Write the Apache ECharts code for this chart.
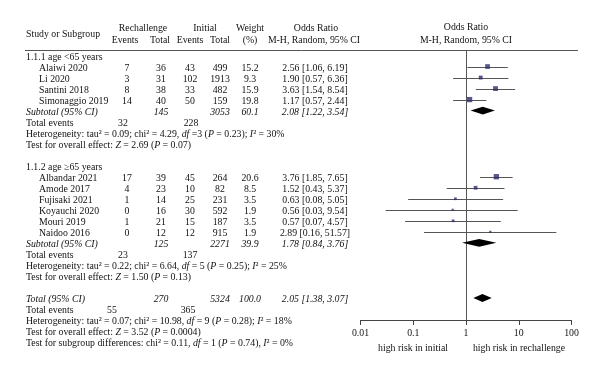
<!DOCTYPE html>
<html><head><meta charset="utf-8">
<script src="https://cdn.jsdelivr.net/npm/echarts@6/dist/echarts.min.js"></script>
<style>html,body{margin:0;padding:0;background:#fff}#c{width:600px;height:377px}</style>
</head><body><div id="c"></div>
<script>
// ---- data ----
const group1Label = '1.1.1 age <65 years';
const group2Label = '1.1.2 age \u226565 years';
const g1Studies = ['Alaiwi 2020', 'Li 2020', 'Santini 2018', 'Simonaggio 2019'];
const g1RechEvents = [7, 3, 8, 14];
const g1RechTotal = [36, 31, 38, 40];
const g1InitEvents = [43, 102, 33, 50];
const g1InitTotal = [499, 1913, 482, 159];
const g1Weight = [15.2, 9.3, 15.9, 19.8];
const g1OR = [2.56, 1.90, 3.63, 1.17];
const g1Lo = [1.06, 0.57, 1.54, 0.57];
const g1Hi = [6.19, 6.36, 8.54, 2.44];
const g1Sub = {rechTotal: 145, initTotal: 3053, weight: 60.1, or: 2.08, lo: 1.22, hi: 3.54, rechEv: 32, initEv: 228};

const g2Studies = ['Albandar 2021', 'Amode 2017', 'Fujisaki 2021', 'Koyauchi 2020', 'Mouri 2019', 'Naidoo 2016'];
const g2RechEvents = [17, 4, 1, 0, 1, 0];
const g2RechTotal = [39, 23, 14, 16, 21, 12];
const g2InitEvents = [45, 10, 25, 30, 15, 12];
const g2InitTotal = [264, 82, 231, 592, 187, 915];
const g2Weight = [20.6, 8.5, 3.5, 1.9, 3.5, 1.9];
const g2OR = [3.76, 1.52, 0.63, 0.56, 0.57, 2.89];
const g2Lo = [1.85, 0.43, 0.08, 0.03, 0.07, 0.16];
const g2Hi = [7.65, 5.37, 5.05, 9.54, 4.57, 51.57];
const g2Sub = {rechTotal: 125, initTotal: 2271, weight: 39.9, or: 1.78, lo: 0.84, hi: 3.76, rechEv: 23, initEv: 137};

const total = {rechTotal: 270, initTotal: 5324, weight: 100.0, or: 2.05, lo: 1.38, hi: 3.07, rechEv: 55, initEv: 365};

const g1Het = 'Heterogeneity: tau\u00b2 = 0.09; chi\u00b2 = 4.29, {i|df} =3 ({i|P} = 0.23); {i|I}\u00b2 = 30%';
const g1Test = 'Test for overall effect: {i|Z} = 2.69 ({i|P} = 0.07)';
const g2Het = 'Heterogeneity: tau\u00b2 = 0.22; chi\u00b2 = 6.64, {i|df} = 5 ({i|P} = 0.25); {i|I}\u00b2 = 25%';
const g2Test = 'Test for overall effect: {i|Z} = 1.50 ({i|P} = 0.13)';
const totHet = 'Heterogeneity: tau\u00b2 = 0.07; chi\u00b2 = 10.98, {i|df} = 9 ({i|P} = 0.28); {i|I}\u00b2 = 18%';
const totTest = 'Test for overall effect: {i|Z} = 3.52 ({i|P} = 0.0004)';
const subgroupTest = 'Test for subgroup differences: chi\u00b2 = 0.11, {i|df} = 1 ({i|P} = 0.74), {i|I}\u00b2 = 0%';

const xTickLabels = ['0.01', '0.1', '1', '10', '100'];
const xAxisLeftText = 'high risk in initial';
const xAxisRightText = 'high risk in rechallenge';

// ---- layout ----
const FF = '"Liberation Serif", "Times New Roman", serif';
const FS = 9.8;
const TXT = '#111';
const rowTextY = i => 57 + 11 * i;
const col = {name: 26, indent: 39, rechEv: 127, rechTot: 161, initEv: 190, initTot: 220, weight: 250, or: 315};
const f2 = v => v.toFixed(2);
const orText = (o, l, h) => f2(o) + ' [' + f2(l) + ', ' + f2(h) + ']';

const els = [];
function txt(s, x, y, align, italic, extra) {
  els.push({
    type: 'text', x: x, y: y, silent: true,
    style: Object.assign({
      text: s, fill: TXT, fontFamily: FF, fontSize: FS,
      fontStyle: italic ? 'italic' : 'normal',
      align: align || 'left', verticalAlign: 'middle',
      rich: {i: {fontStyle: 'italic', fontFamily: FF, fontSize: FS, fill: TXT}}
    }, extra || {})
  });
}
// headers
txt('Study or Subgroup', col.name, 34);
txt('Rechallenge', 143, 28, 'center');
txt('Events', 125, 40, 'center');
txt('Total', 160, 40, 'center');
txt('Initial', 205, 28, 'center');
txt('Events', 190, 40, 'center');
txt('Total', 220, 40, 'center');
txt('Weight', 250, 28, 'center');
txt('(%)', 250, 40, 'center');
txt('Odds Ratio', 316, 28, 'center');
txt('M-H, Random, 95% CI', 314, 40, 'center');
txt('Odds Ratio', 466, 27, 'center');
txt('M-H, Random, 95% CI', 466, 40, 'center');

function studyRows(startRow, names, re, rt, ie, it, w, o, l, h) {
  names.forEach((n, k) => {
    const y = rowTextY(startRow + k);
    txt(n, col.indent, y);
    txt(String(re[k]), col.rechEv, y, 'center');
    txt(String(rt[k]), col.rechTot, y, 'center');
    txt(String(ie[k]), col.initEv, y, 'center');
    txt(String(it[k]), col.initTot, y, 'center');
    txt(w[k].toFixed(1), col.weight, y, 'center');
    txt(orText(o[k], l[k], h[k]), col.or, y, 'center');
  });
}
function summaryRow(row, label, s) {
  const y = rowTextY(row);
  txt(label, col.name, y, 'left', true);
  txt(String(s.rechTotal), col.rechTot, y, 'center', true);
  txt(String(s.initTotal), col.initTot, y, 'center', true);
  txt(s.weight.toFixed(1), col.weight, y, 'center', true);
  txt(orText(s.or, s.lo, s.hi), col.or, y, 'center', true);
}
// group 1
txt(group1Label, col.name, rowTextY(0));
studyRows(1, g1Studies, g1RechEvents, g1RechTotal, g1InitEvents, g1InitTotal, g1Weight, g1OR, g1Lo, g1Hi);
summaryRow(5, 'Subtotal (95% CI)', g1Sub);
txt('Total events', col.name, rowTextY(6));
txt(String(g1Sub.rechEv), 123, rowTextY(6), 'center');
txt(String(g1Sub.initEv), 191, rowTextY(6), 'center');
txt(g1Het, col.name, rowTextY(7));
txt(g1Test, col.name, rowTextY(8));
// group 2
txt(group2Label, col.name, rowTextY(10));
studyRows(11, g2Studies, g2RechEvents, g2RechTotal, g2InitEvents, g2InitTotal, g2Weight, g2OR, g2Lo, g2Hi);
summaryRow(17, 'Subtotal (95% CI)', g2Sub);
txt('Total events', col.name, rowTextY(18));
txt(String(g2Sub.rechEv), 123, rowTextY(18), 'center');
txt(String(g2Sub.initEv), 190, rowTextY(18), 'center');
txt(g2Het, col.name, rowTextY(19));
txt(g2Test, col.name, rowTextY(20));
// total
summaryRow(22, 'Total (95% CI)', total);
txt('Total events', col.name, rowTextY(23));
txt(String(total.rechEv), 112, rowTextY(23), 'center');
txt(String(total.initEv), 188, rowTextY(23), 'center');
txt(totHet, col.name, rowTextY(24));
txt(totTest, col.name, rowTextY(25));
txt(subgroupTest, col.name, rowTextY(26));
// header rule
els.push({type: 'line', silent: true, shape: {x1: 25, y1: 50.5, x2: 578, y2: 50.5}, style: {stroke: '#555', lineWidth: 1}});
// axis captions
txt(xAxisLeftText, 413, 348, 'center');
txt(xAxisRightText, 519, 348, 'center');

// ---- forest data ----
const studyRowsIdx1 = [1, 2, 3, 4];
const studyRowsIdx2 = [11, 12, 13, 14, 15, 16];
const ciData = [];
const sqData = [];
studyRowsIdx1.forEach((r, k) => { ciData.push([g1Lo[k], g1Hi[k], r]); sqData.push([g1OR[k], r, g1Weight[k]]); });
studyRowsIdx2.forEach((r, k) => { ciData.push([g2Lo[k], g2Hi[k], r]); sqData.push([g2OR[k], r, g2Weight[k]]); });
const diaData = [[g1Sub.or, g1Sub.lo, g1Sub.hi, 5], [g2Sub.or, g2Sub.lo, g2Sub.hi, 17], [total.or, total.lo, total.hi, 22]];

const chart = echarts.init(document.getElementById('c'), null, {renderer: 'canvas'});
chart.setOption({
  animation: false,
  backgroundColor: '#fff',
  grid: {left: 360.5, right: 28.5, top: 50, height: 270},
  xAxis: {
    type: 'log', logBase: 10, min: 0.01, max: 100, position: 'bottom',
    axisLine: {onZero: false, lineStyle: {color: '#444', width: 1}},
    axisTick: {show: true, length: 5, inside: false, lineStyle: {color: '#444'}},
    minorTick: {show: false},
    splitLine: {show: false},
    axisLabel: {margin: 8, color: TXT, fontFamily: FF, fontSize: FS,
      formatter: (v, i) => xTickLabels[i] !== undefined ? xTickLabels[i] : ''}
  },
  yAxis: {type: 'value', inverse: true, min: -0.5, max: 24, show: false},
  series: [
    {
      type: 'custom', name: 'ref', silent: true,
      data: [[1, -0.5, 24]],
      encode: {x: 0, y: [1, 2]},
      renderItem: (p, api) => {
        const a = api.coord([api.value(0), api.value(1)]);
        const b = api.coord([api.value(0), api.value(2)]);
        const x = Math.round(a[0]) + 0.5;
        return {type: 'line', shape: {x1: x, y1: a[1], x2: x, y2: b[1]}, style: {stroke: '#555', lineWidth: 1}};
      }
    },
    {
      type: 'custom', name: 'ci', silent: true,
      data: ciData,
      encode: {x: [0, 1], y: 2},
      renderItem: (p, api) => {
        const a = api.coord([api.value(0), api.value(2)]);
        const b = api.coord([api.value(1), api.value(2)]);
        const y = Math.round(a[1]) + 0.5;
        return {type: 'line', shape: {x1: a[0], y1: y, x2: b[0], y2: y}, style: {stroke: '#555', lineWidth: 1}};
      }
    },
    {
      type: 'scatter', name: 'or', silent: true,
      data: sqData, symbol: 'rect',
      symbolSize: v => Math.sqrt(v[2]) + 0.8,
      itemStyle: {color: '#2c2c6c'}
    },
    {
      type: 'custom', name: 'pooled', silent: true,
      data: diaData,
      encode: {x: [1, 2], y: 3},
      renderItem: (p, api) => {
        const o = api.value(0), l = api.value(1), h = api.value(2), r = api.value(3);
        const pts = [api.coord([l, r]), api.coord([o, r - 0.36]), api.coord([h, r]), api.coord([o, r + 0.36])];
        return {type: 'polygon', shape: {points: pts}, style: {fill: '#000'}};
      }
    }
  ],
  graphic: {elements: els}
});
</script></body></html>
